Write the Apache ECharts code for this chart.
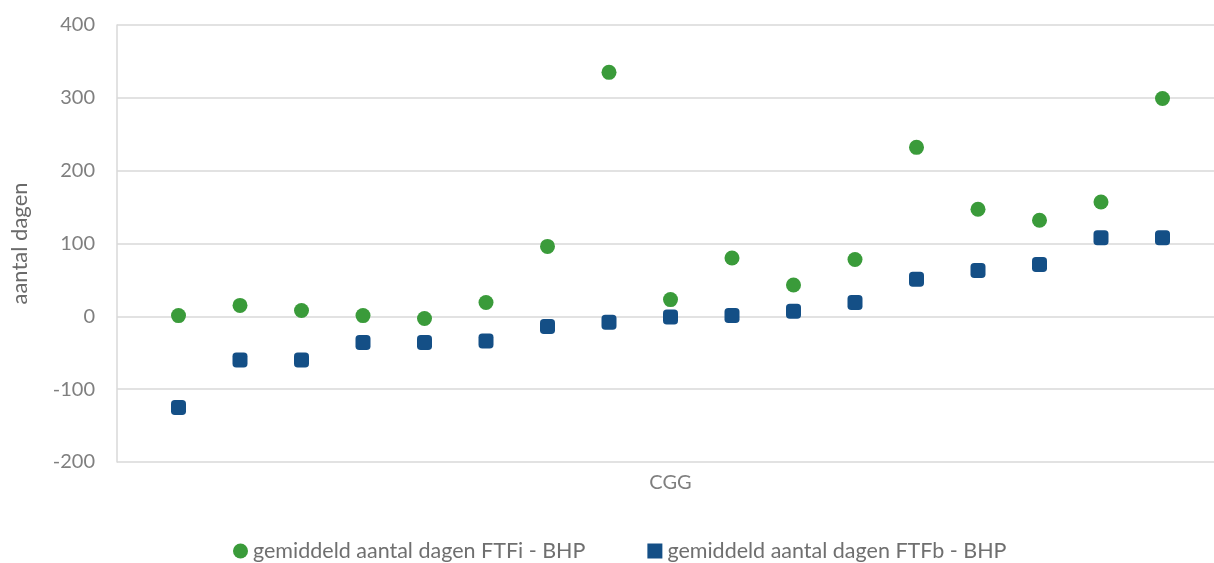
<!DOCTYPE html>
<html><head><meta charset="utf-8">
<script src="https://cdn.jsdelivr.net/npm/echarts@6/dist/echarts.min.js"></script>
<style>html,body{margin:0;padding:0;background:#fff}#c{width:1214px;height:563px}</style>
</head><body><div id="c"></div>
<script>
const positions = [1,2,3,4,5,6,7,8,9,10,11,12,13,14,15,16,17];
const ftfi = [1, 15, 8, 1, -3, 19, 96, 335, 23, 80, 43, 78, 232, 147, 132, 157, 299];
const ftfb = [-125, -60, -60, -36, -36, -34, -14, -8, -1, 1, 7, 19, 51, 63, 71, 108, 108];
const yTicks = [-200, -100, 0, 100, 200, 300, 400];
const seriesNames = ['gemiddeld aantal dagen FTFi - BHP', 'gemiddeld aantal dagen FTFb - BHP'];
const FONT = 'Lato, "Liberation Sans", sans-serif';
const chart = echarts.init(document.getElementById('c'), null, {renderer:'canvas'});
chart.setOption({
  animation: false,
  backgroundColor: '#fff',
  grid: {left: 117, right: -10, top: 25, bottom: 101, containLabel: false, outerBoundsMode: 'none'},
  xAxis: {
    type: 'value', min: 0, max: 18,
    name: 'CGG', nameLocation: 'middle', nameGap: 11,
    nameTextStyle: {color: '#7f7f7f', fontSize: 20, fontFamily: FONT, verticalAlign: 'top'},
    axisLine: {show: false}, axisTick: {show: false}, axisLabel: {show: false}, splitLine: {show: false}
  },
  yAxis: {
    type: 'value', min: yTicks[0], max: yTicks[yTicks.length-1], interval: 100,
    name: 'aantal dagen', nameLocation: 'middle', nameGap: 86, nameRotate: 90,
    nameTextStyle: {color: '#6a6a6a', fontSize: 22, fontFamily: FONT},
    axisLine: {show: true, onZero: false, lineStyle: {color: '#d9d9d9', width: 1.5}},
    axisTick: {show: false},
    axisLabel: {color: '#7f7f7f', fontSize: 20, fontFamily: FONT, margin: 22},
    splitLine: {show: true, lineStyle: {color: '#d9d9d9', width: 1.5}}
  },
  legend: {
    left: 228, top: 535, itemGap: 62, itemWidth: 15, itemHeight: 15,
    textStyle: {color: '#6f6f6f', fontSize: 21.5, fontFamily: FONT},
    data: [{name: seriesNames[0], icon: 'circle'}, {name: seriesNames[1], icon: 'rect'}]
  },
  series: [
    {name: seriesNames[0], type: 'scatter', symbol: 'circle', symbolSize: 15,
     itemStyle: {color: '#3a9b3a', opacity: 1},
     data: positions.map((p,i)=>[p, ftfi[i]])},
    {name: seriesNames[1], type: 'scatter', symbol: 'roundRect', symbolSize: 15,
     itemStyle: {color: '#144f86', opacity: 1},
     data: positions.map((p,i)=>[p, ftfb[i]])}
  ]
});
</script></body></html>
